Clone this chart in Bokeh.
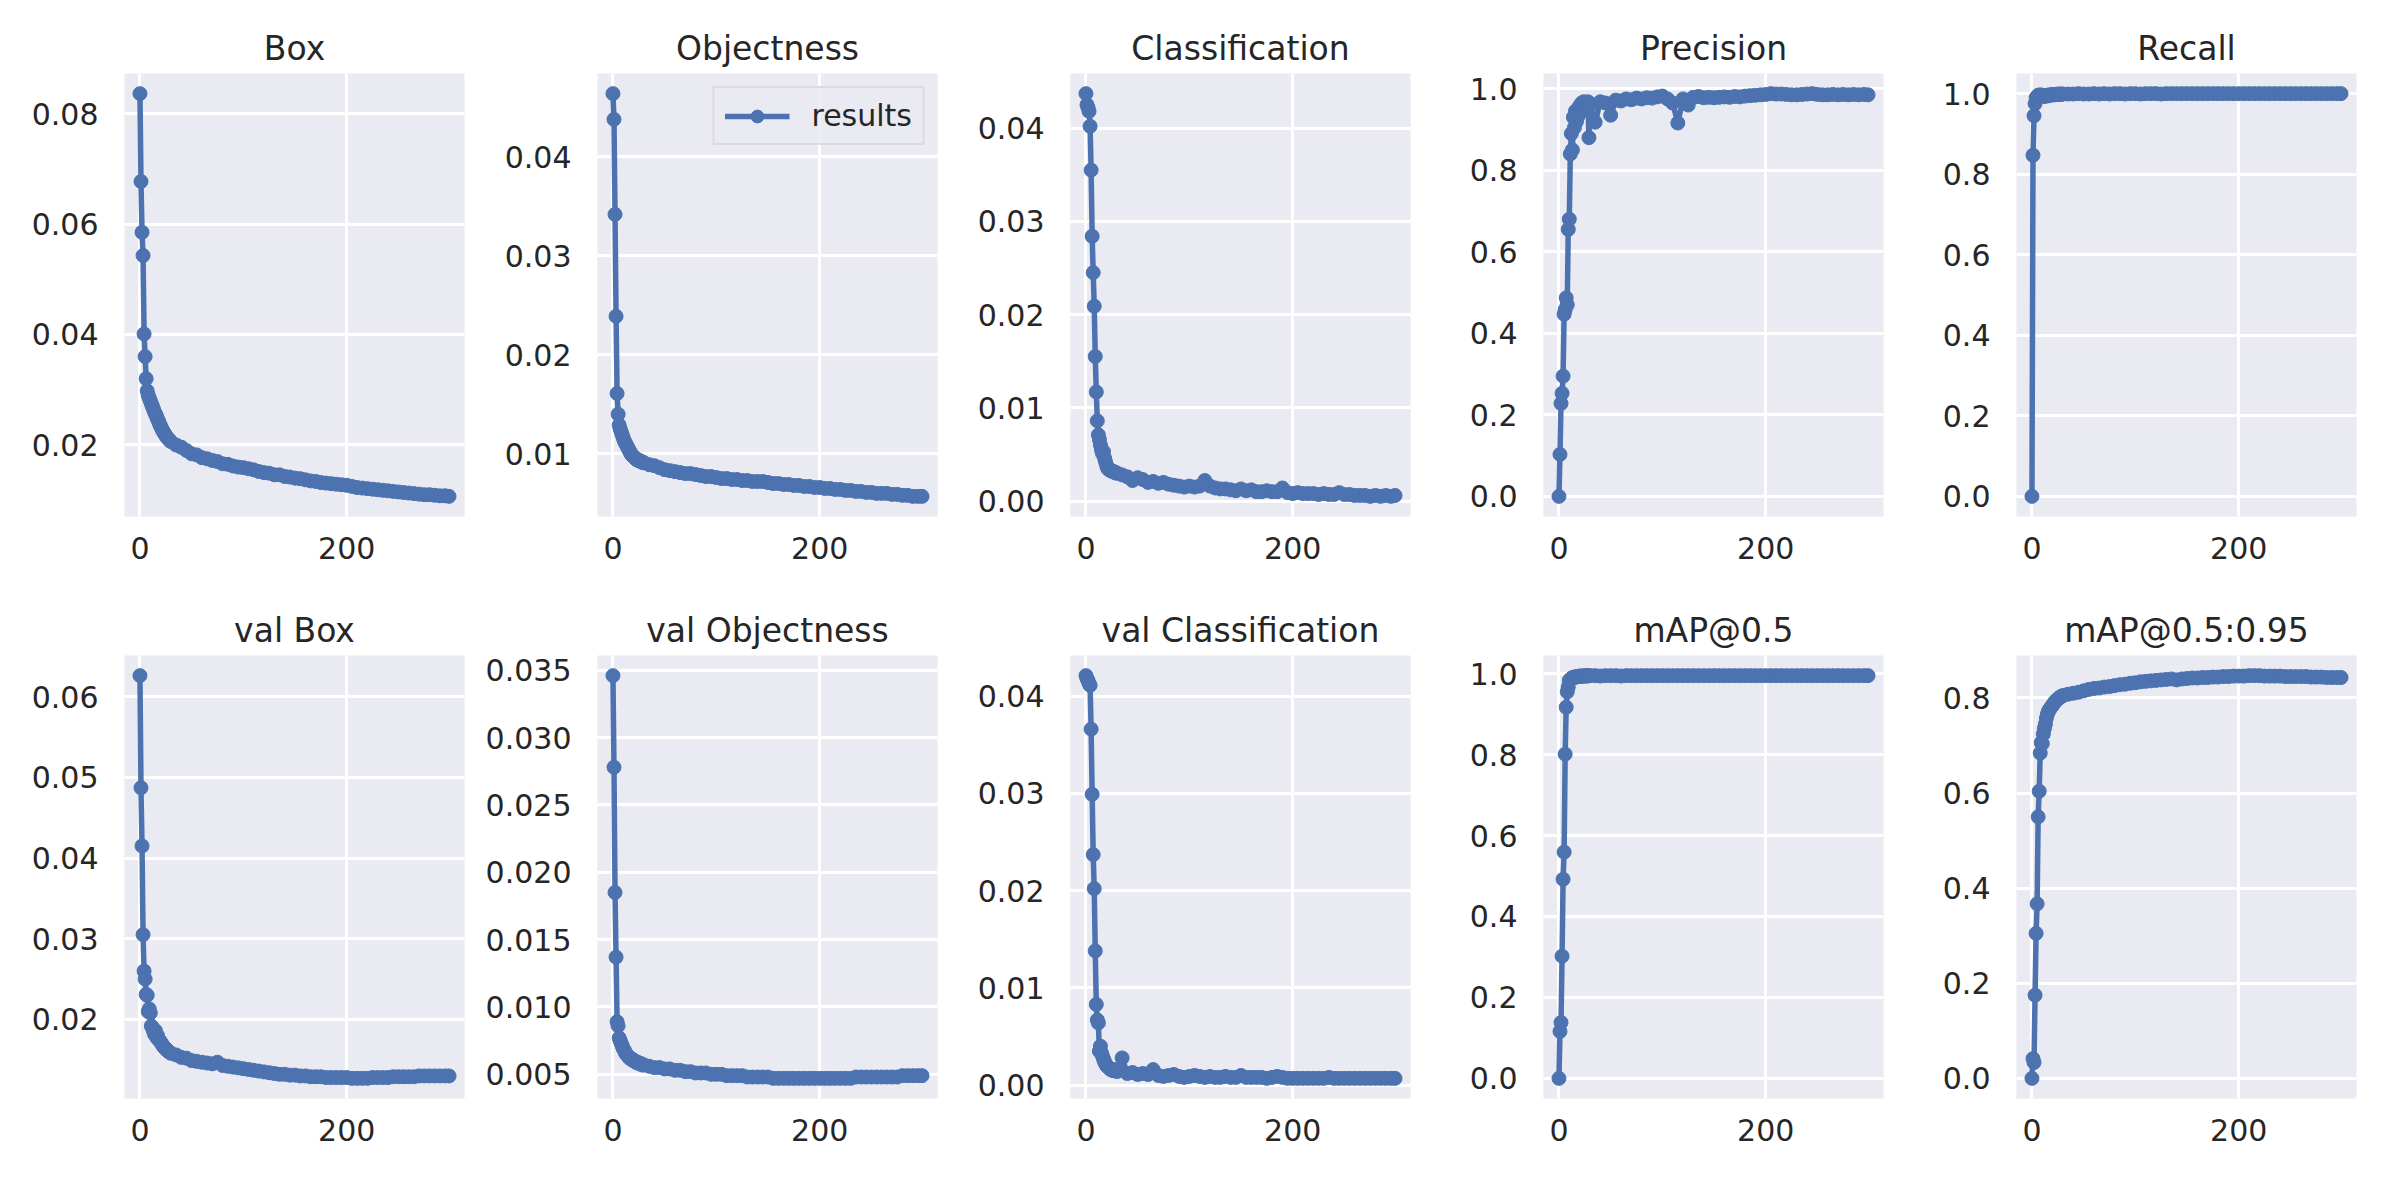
from bokeh.plotting import figure
from bokeh.layouts import gridplot
from bokeh.models import Range1d, FixedTicker, PrintfTickFormatter, Legend, LegendItem
from bokeh.embed import file_html
from bokeh.resources import INLINE

# epochs at which values were read (dense at start, every 5 epochs later)
EPOCHS = [0, 1, 2, 3, 4, 5, 6, 7, 8, 9,
          10, 11, 12, 13, 14, 15, 16, 17, 18, 19,
          20, 21, 22, 23, 24, 25, 26, 27, 28, 29, 30,
          35, 40, 45, 50, 55, 60, 65, 70, 75, 80,
          85, 90, 95, 100, 105, 110, 115, 120, 125, 130,
          135, 140, 145, 150, 155, 160, 165, 170, 175, 180,
          185, 190, 195, 200, 205, 210, 215, 220, 225, 230,
          235, 240, 245, 250, 255, 260, 265, 270, 275, 280,
          285, 290, 295, 299]

BOX = [0.0836, 0.0677, 0.0585, 0.0543, 0.0401, 0.0360, 0.0320, 0.0298, 0.0290, 0.0285,
       0.0280, 0.0275, 0.0270, 0.0265, 0.0260, 0.0256, 0.0252, 0.0247, 0.0243, 0.0238,
       0.0234, 0.0230, 0.0226, 0.0223, 0.0220, 0.0217, 0.0214, 0.0212, 0.0210, 0.0208, 0.0206,
       0.0200, 0.0196, 0.0190, 0.0184, 0.0182, 0.0177, 0.0175, 0.0172, 0.0170, 0.0166,
       0.0165, 0.0162, 0.0160, 0.0159, 0.0157, 0.0155, 0.0152, 0.0150, 0.0149, 0.0146,
       0.0146, 0.0143, 0.0142, 0.0140, 0.0139, 0.0137, 0.0135, 0.0134, 0.0132, 0.0131,
       0.0130, 0.0129, 0.0128, 0.0127, 0.0125, 0.0123, 0.0122, 0.0121, 0.0120, 0.0119,
       0.0118, 0.0117, 0.0116, 0.0115, 0.0114, 0.0113, 0.0112, 0.0111, 0.0110, 0.0110,
       0.0109, 0.0108, 0.0108, 0.0107]

OBJECTNESS = [0.0464, 0.0438, 0.0342, 0.0239, 0.0161, 0.0140, 0.0129, 0.0125, 0.0122, 0.0119,
              0.0116, 0.0113, 0.0111, 0.0109, 0.0107, 0.0105, 0.0103, 0.0101, 0.0099, 0.0098,
              0.0097, 0.0096, 0.0095, 0.0094, 0.0094, 0.0093, 0.0093, 0.0092, 0.0092, 0.0091, 0.0091,
              0.0089, 0.0088, 0.0086, 0.0084, 0.0083, 0.0082, 0.0081, 0.0080, 0.0080, 0.0079,
              0.0078, 0.0077, 0.0077, 0.0076, 0.0075, 0.0075, 0.0074, 0.0074, 0.0073, 0.0073,
              0.0072, 0.0072, 0.0072, 0.0071, 0.0070, 0.0070, 0.0069, 0.0069, 0.0068, 0.0068,
              0.0067, 0.0067, 0.0066, 0.0066, 0.0065, 0.0065, 0.0064, 0.0064, 0.0063, 0.0063,
              0.0062, 0.0062, 0.0061, 0.0061, 0.0060, 0.0060, 0.0060, 0.0059, 0.0059, 0.0058,
              0.0058, 0.0057, 0.0057, 0.0057]

CLASSIFICATION = [0.0437, 0.0425, 0.0422, 0.0418, 0.0402, 0.0355, 0.0284, 0.0245, 0.0209, 0.0155,
                  0.0117, 0.0086, 0.0071, 0.0066, 0.0060, 0.0055, 0.0051, 0.0053, 0.0046, 0.0042,
                  0.0038, 0.0035, 0.0034, 0.0033, 0.0033, 0.0032, 0.0032, 0.0031, 0.0031, 0.0030, 0.0030,
                  0.0028, 0.0026, 0.0022, 0.0025, 0.0023, 0.0020, 0.0021, 0.0019, 0.0020, 0.0018,
                  0.0017, 0.0016, 0.0015, 0.0016, 0.0015, 0.0016, 0.0022, 0.0016, 0.0014, 0.0013,
                  0.0013, 0.0012, 0.0011, 0.0013, 0.0011, 0.0012, 0.0010, 0.0010, 0.0011, 0.0010,
                  0.0010, 0.0014, 0.0009, 0.0008, 0.0009, 0.0008, 0.0008, 0.0008, 0.0007, 0.0008,
                  0.0007, 0.0007, 0.0009, 0.0007, 0.0007, 0.0006, 0.0006, 0.0006, 0.0005, 0.0006,
                  0.0005, 0.0006, 0.0005, 0.0006]

PRECISION = [0.000, 0.103, 0.228, 0.253, 0.295, 0.447, 0.458, 0.487, 0.470, 0.655,
             0.680, 0.840, 0.890, 0.850, 0.930, 0.905, 0.945, 0.920, 0.950, 0.935,
             0.958, 0.945, 0.965, 0.950, 0.968, 0.960, 0.955, 0.965, 0.968, 0.880, 0.960,
             0.918, 0.968, 0.965, 0.935, 0.972, 0.970, 0.975, 0.973, 0.977, 0.975,
             0.978, 0.977, 0.980, 0.982, 0.975, 0.965, 0.916, 0.975, 0.960, 0.979,
             0.981, 0.978, 0.979, 0.978, 0.979, 0.980, 0.979, 0.981, 0.980, 0.982,
             0.983, 0.984, 0.985, 0.986, 0.988, 0.987, 0.987, 0.986, 0.985, 0.985,
             0.986, 0.987, 0.988, 0.986, 0.985, 0.985, 0.986, 0.985, 0.986, 0.985,
             0.986, 0.985, 0.986, 0.985]

RECALL = [0.000, 0.847, 0.945, 0.975, 0.990, 0.993, 0.996, 0.994, 0.997, 0.995,
          0.996, 0.994, 0.993, 0.995, 0.994, 0.996, 0.995, 0.997, 0.996, 0.997,
          0.998, 0.998, 0.997, 0.998, 0.998, 0.999, 0.998, 0.999, 0.998, 0.999, 0.999,
          0.999, 0.999, 1.000, 0.999, 0.999, 1.000, 0.999, 1.000, 0.999, 1.000,
          1.000, 0.999, 1.000, 1.000, 0.999, 1.000, 1.000, 1.000, 0.999, 1.000,
          1.000, 1.000, 1.000, 1.000, 1.000, 1.000, 1.000, 1.000, 1.000, 1.000,
          1.000, 1.000, 1.000, 1.000, 1.000, 1.000, 1.000, 1.000, 1.000, 1.000,
          1.000, 1.000, 1.000, 1.000, 1.000, 1.000, 1.000, 1.000, 1.000, 1.000,
          1.000, 1.000, 1.000, 1.000]

VAL_BOX = [0.0626, 0.0487, 0.0415, 0.0305, 0.0260, 0.0250, 0.0231, 0.0230, 0.0210, 0.0213,
           0.0208, 0.0192, 0.0190, 0.0186, 0.0182, 0.0186, 0.0178, 0.0180, 0.0175, 0.0174,
           0.0172, 0.0170, 0.0168, 0.0166, 0.0165, 0.0163, 0.0162, 0.0161, 0.0160, 0.0159, 0.0158,
           0.0156, 0.0153, 0.0152, 0.0149, 0.0148, 0.0147, 0.0146, 0.0145, 0.0147, 0.0143,
           0.0142, 0.0141, 0.0140, 0.0139, 0.0138, 0.0137, 0.0136, 0.0135, 0.0134, 0.0133,
           0.0132, 0.0132, 0.0131, 0.0131, 0.0130, 0.0130, 0.0129, 0.0129, 0.0129, 0.0128,
           0.0128, 0.0128, 0.0128, 0.0128, 0.0127, 0.0127, 0.0127, 0.0127, 0.0128, 0.0128,
           0.0128, 0.0128, 0.0129, 0.0129, 0.0129, 0.0129, 0.0129, 0.0130, 0.0130, 0.0130,
           0.0130, 0.0130, 0.0130, 0.0130]

VAL_OBJECTNESS = [0.0346, 0.0278, 0.0185, 0.0137, 0.0089, 0.0086, 0.0077, 0.0075, 0.0073, 0.0071,
                  0.0069, 0.0068, 0.0066, 0.0065, 0.0064, 0.0063, 0.0062, 0.0062, 0.0061, 0.0061,
                  0.0060, 0.0060, 0.0059, 0.0059, 0.0059, 0.0058, 0.0058, 0.0058, 0.0057, 0.0057, 0.0057,
                  0.0056, 0.0055, 0.0055, 0.0054, 0.0054, 0.0053, 0.0053, 0.0052, 0.0052, 0.0051,
                  0.0051, 0.0051, 0.0050, 0.0050, 0.0050, 0.0049, 0.0049, 0.0049, 0.0049, 0.0048,
                  0.0048, 0.0048, 0.0048, 0.0048, 0.0047, 0.0047, 0.0047, 0.0047, 0.0047, 0.0047,
                  0.0047, 0.0047, 0.0047, 0.0047, 0.0047, 0.0047, 0.0047, 0.0047, 0.0047, 0.0047,
                  0.0048, 0.0048, 0.0048, 0.0048, 0.0048, 0.0048, 0.0048, 0.0048, 0.0048, 0.0049,
                  0.0049, 0.0049, 0.0049, 0.0049]

VAL_CLASSIFICATION = [0.0421, 0.0418, 0.0416, 0.0413, 0.0411, 0.0366, 0.0299, 0.0237, 0.0202, 0.0138,
                      0.0083, 0.0067, 0.0064, 0.0035, 0.0040, 0.0033, 0.0030, 0.0027, 0.0024, 0.0022,
                      0.0020, 0.0019, 0.0018, 0.0017, 0.0016, 0.0016, 0.0015, 0.0015, 0.0016, 0.0015, 0.0014,
                      0.0028, 0.0012, 0.0013, 0.0011, 0.0012, 0.0011, 0.0016, 0.0010, 0.0009, 0.0010,
                      0.0011, 0.0009, 0.0008, 0.0009, 0.0010, 0.0009, 0.0008, 0.0009, 0.0008, 0.0008,
                      0.0009, 0.0008, 0.0008, 0.0010, 0.0008, 0.0008, 0.0008, 0.0008, 0.0007, 0.0008,
                      0.0009, 0.0008, 0.0007, 0.0007, 0.0007, 0.0007, 0.0007, 0.0007, 0.0007, 0.0007,
                      0.0008, 0.0007, 0.0007, 0.0007, 0.0007, 0.0007, 0.0007, 0.0007, 0.0007, 0.0007,
                      0.0007, 0.0007, 0.0007, 0.0007]

MAP50 = [0.000, 0.116, 0.138, 0.302, 0.492, 0.559, 0.801, 0.917, 0.955, 0.967,
         0.983, 0.986, 0.988, 0.990, 0.991, 0.990, 0.992, 0.992, 0.993, 0.993,
         0.994, 0.994, 0.993, 0.994, 0.994, 0.995, 0.994, 0.995, 0.994, 0.995, 0.995,
         0.995, 0.994, 0.995, 0.995, 0.995, 0.994, 0.995, 0.995, 0.995, 0.995,
         0.995, 0.995, 0.995, 0.995, 0.995, 0.995, 0.995, 0.995, 0.995, 0.995,
         0.995, 0.995, 0.995, 0.995, 0.995, 0.995, 0.995, 0.995, 0.995, 0.995,
         0.995, 0.995, 0.995, 0.995, 0.995, 0.995, 0.995, 0.995, 0.995, 0.995,
         0.995, 0.995, 0.995, 0.995, 0.995, 0.995, 0.995, 0.995, 0.995, 0.995,
         0.995, 0.995, 0.995, 0.995]

MAP50_95 = [0.000, 0.0415, 0.0335, 0.175, 0.305, 0.367, 0.550, 0.604, 0.684, 0.706,
            0.704, 0.724, 0.736, 0.745, 0.758, 0.766, 0.772, 0.776, 0.779, 0.782,
            0.785, 0.788, 0.791, 0.794, 0.796, 0.798, 0.800, 0.801, 0.803, 0.804, 0.805,
            0.808, 0.810, 0.812, 0.815, 0.818, 0.820, 0.821, 0.823, 0.824, 0.826,
            0.828, 0.829, 0.831, 0.832, 0.834, 0.835, 0.836, 0.837, 0.838, 0.839,
            0.840, 0.838, 0.840, 0.841, 0.842, 0.842, 0.843, 0.843, 0.844, 0.844,
            0.845, 0.845, 0.846, 0.846, 0.846, 0.847, 0.847, 0.847, 0.846, 0.846,
            0.846, 0.846, 0.845, 0.845, 0.845, 0.845, 0.845, 0.844, 0.844, 0.844,
            0.843, 0.843, 0.843, 0.843]

TITLES = ["Box", "Objectness", "Classification", "Precision", "Recall",
          "val Box", "val Objectness", "val Classification", "mAP@0.5", "mAP@0.5:0.95"]
SERIES = [BOX, OBJECTNESS, CLASSIFICATION, PRECISION, RECALL,
          VAL_BOX, VAL_OBJECTNESS, VAL_CLASSIFICATION, MAP50, MAP50_95]
Y_TICKS = [[0.02, 0.04, 0.06, 0.08],
           [0.01, 0.02, 0.03, 0.04],
           [0.00, 0.01, 0.02, 0.03, 0.04],
           [0.0, 0.2, 0.4, 0.6, 0.8, 1.0],
           [0.0, 0.2, 0.4, 0.6, 0.8, 1.0],
           [0.02, 0.03, 0.04, 0.05, 0.06],
           [0.005, 0.010, 0.015, 0.020, 0.025, 0.030, 0.035],
           [0.00, 0.01, 0.02, 0.03, 0.04],
           [0.0, 0.2, 0.4, 0.6, 0.8, 1.0],
           [0.0, 0.2, 0.4, 0.6, 0.8]]
Y_FORMATS = ["%.2f", "%.2f", "%.2f", "%.1f", "%.1f", "%.2f", "%.3f", "%.2f", "%.1f", "%.1f"]
X_TICKS = [0, 200]
LEGEND_LABEL = "results"

BLUE = "#4C72B0"
TEXT = "#262626"
FONT = "DejaVu Sans"

n = len(EPOCHS)
xpad = 0.05 * (EPOCHS[-1] - EPOCHS[0])

figs = []
for i, (title, vals) in enumerate(zip(TITLES, SERIES)):
    vals = vals[:n]
    lo, hi = min(vals), max(vals)
    pad = 0.05 * (hi - lo)
    p = figure(frame_width=340, frame_height=443,
               min_border_left=124, min_border_right=9,
               min_border_top=73, min_border_bottom=66,
               x_range=Range1d(EPOCHS[0] - xpad, EPOCHS[-1] + xpad),
               y_range=Range1d(lo - pad, hi + pad),
               output_backend="svg", toolbar_location=None, title=title)
    p.background_fill_color = "#EAEAF2"
    p.border_fill_color = "white"
    p.outline_line_color = None

    p.title.align = "center"
    p.title.text_font = FONT
    p.title.text_font_size = "33px"
    p.title.text_font_style = "normal"
    p.title.text_color = TEXT
    p.title.standoff = 12

    p.xaxis.ticker = FixedTicker(ticks=X_TICKS)
    p.xaxis.formatter = PrintfTickFormatter(format="%d")
    p.yaxis.ticker = FixedTicker(ticks=Y_TICKS[i])
    p.yaxis.formatter = PrintfTickFormatter(format=Y_FORMATS[i])
    p.xgrid.ticker = FixedTicker(ticks=X_TICKS)
    p.ygrid.ticker = FixedTicker(ticks=Y_TICKS[i])
    p.grid.grid_line_color = "white"
    p.grid.grid_line_width = 3

    for ax in (p.xaxis, p.yaxis):
        ax.axis_line_color = None
        ax.major_tick_line_color = None
        ax.minor_tick_line_color = None
        ax.major_tick_out = 0
        ax.major_tick_in = 0
        ax.major_label_text_font = FONT
        ax.major_label_text_font_size = "30px"
        ax.major_label_text_color = TEXT
    p.xaxis.major_label_standoff = 20
    p.yaxis.major_label_standoff = 26

    rl = p.line(EPOCHS, vals, line_color=BLUE, line_width=5.5)
    rs = p.scatter(EPOCHS, vals, size=14, fill_color=BLUE, line_color=BLUE)

    if title == "Objectness":
        leg = Legend(items=[LegendItem(label=LEGEND_LABEL, renderers=[rl, rs])],
                     location="top_right")
        leg.label_text_font = FONT
        leg.label_text_font_size = "30px"
        leg.label_text_color = TEXT
        leg.glyph_width = 65
        leg.glyph_height = 32
        leg.label_height = 32
        leg.label_standoff = 22
        leg.padding = 10
        leg.margin = 13
        leg.spacing = 0
        leg.border_line_color = "#CCCCCC"
        leg.border_line_width = 2
        leg.background_fill_color = "#EAEAF2"
        leg.background_fill_alpha = 0.8
        p.add_layout(leg)
    figs.append(p)

grid = gridplot(figs, ncols=5, toolbar_location=None)
open("out.html", "w").write(file_html(grid, INLINE))
